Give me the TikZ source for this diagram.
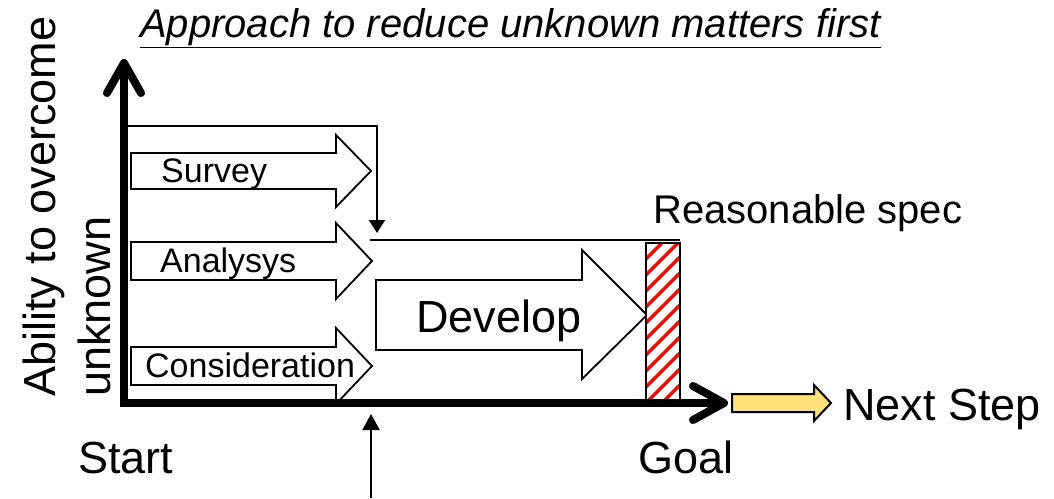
\documentclass[tikz,border=0pt]{standalone}
\usepackage{fontspec}
\setmainfont{Liberation Sans}
\usetikzlibrary{arrows.meta}
\definecolor{nextyellow}{RGB}{255,225,120}
\definecolor{hatchred}{RGB}{255,0,0}
\tikzset{
  lbl/.style={inner sep=0pt, anchor=base west},
  blk/.style={draw=black, line width=1.8pt, fill=white, line join=miter},
  axis/.style={line width=8pt, black},
  chev/.style={line width=8pt, line cap=round, line join=round},
  thin/.style={line width=2pt},
}
\newcommand{\fs}[1]{\fontsize{#1}{#1}\selectfont}
\begin{document}
\begin{tikzpicture}[x=1pt,y=-1pt]
\useasboundingbox (0,0) rectangle (1054,498);
% title
\node[lbl] (title) at (140,37) {\fs{40}\itshape\underline{Approach to reduce unknown matters first}};
% y-axis label
\node[lbl, rotate=90] (ylab1) at (55,397) {\fs{45}Ability to overcome};
\node[lbl, rotate=90] (ylab2) at (110,397) {\fs{45}unknown};
% block arrows
\draw[blk] (131,153)--(336,153)--(336,135)--(371,171)--(336,207)--(336,189)--(131,189)--cycle;
\draw[blk] (131,242)--(336,242)--(336,223)--(372,261)--(336,299)--(336,280)--(131,280)--cycle;
\draw[blk] (131,347)--(336,347)--(336,328)--(372,366)--(336,404)--(336,385)--(131,385)--cycle;
\draw[blk] (376,280)--(582,280)--(582,250)--(647,315)--(582,379)--(582,350)--(376,350)--cycle;
\node[lbl] (survey) at (161,182) {\fs{34}Survey};
\node[lbl] (analysys) at (160,272) {\fs{34}Analysys};
\node[lbl] (consid) at (145,377) {\fs{34}Consideration};
\node[lbl] (develop) at (416,332) {\fs{45}Develop};
% hatched goal bar
\fill[white] (646,243) rectangle (680,400);
\begin{scope}
\clip (646,243) rectangle (680,400);
\foreach \c in {243,259,...,451}
  \draw[hatchred, line width=3.5pt] (646,\c) -- (680,\c-34);
\end{scope}
\draw[thin] (646,243) rectangle (680,400);
% top limit line and bracket
\coordinate (topL) at (370,240);
\coordinate (topR) at (680,240);
\draw[thin] (topL) -- (topR);
\coordinate (brS) at (127,126);
\coordinate (brC) at (377,126);
\coordinate (brE) at (377,233);
\draw[thin, -{Triangle[length=13pt,width=16pt]}] (brS) -- (brC) -- (brE);
\coordinate (upS) at (371,498);
\coordinate (upE) at (371,414);
\draw[thin, -{Triangle[length=16pt,width=17pt]}] (upS) -- (upE);
% axes
\coordinate (origin) at (124,403);
\coordinate (ytip) at (124,64);
\coordinate (xtip) at (723,403);
\draw[axis] (124,407) -- (ytip);
\draw[axis] (120,403) -- (xtip);
\draw[chev] (107,93) -- (124,63) -- (141,93);
\draw[chev] (693,386) -- (724,403) -- (693,420);
% next step arrow
\draw[thin, fill=nextyellow] (732,394)--(814,394)--(814,385)--(831,403)--(814,421)--(814,412)--(732,412)--cycle;
\node[lbl] (next) at (843,420) {\fs{45}Next Step};
\node[lbl] (reason) at (653,223) {\fs{40}Reasonable spec};
\node[lbl] (start) at (78,473) {\fs{45}Start};
\node[lbl] (goal) at (638,473) {\fs{45}Goal};
\end{tikzpicture}
\end{document}
